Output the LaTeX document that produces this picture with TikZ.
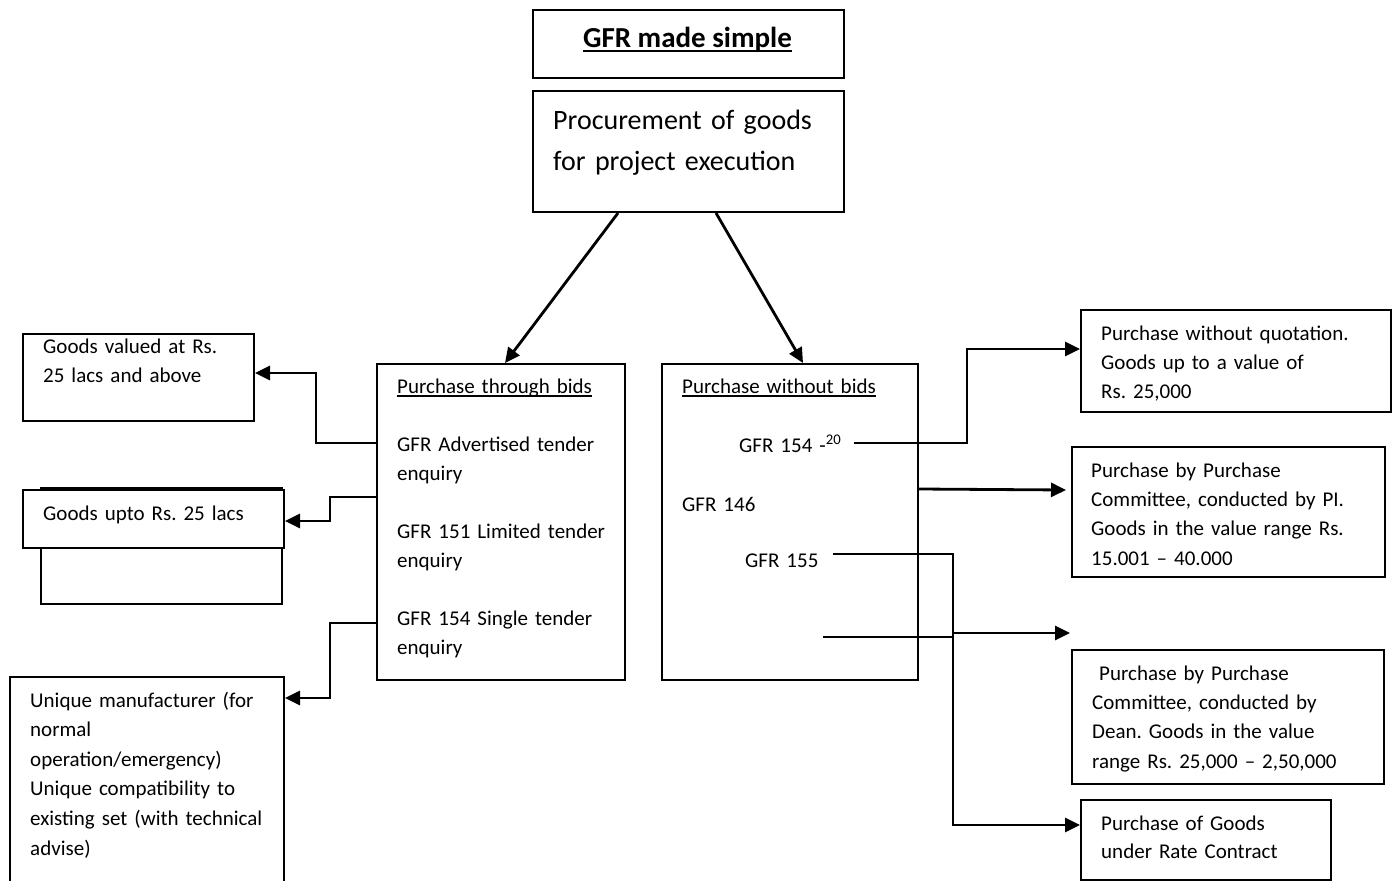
\documentclass[tikz,border=0pt]{standalone}
\usepackage{fontspec}
\setmainfont{Carlito}
\usetikzlibrary{arrows.meta}
\newcommand\myul[3]{\leavevmode\setbox0\hbox{#3}\rlap{\rule[-#1]{\wd0}{#2}}\box0}
\frenchspacing
\begin{document}
\begin{tikzpicture}[x=1pt,y=-1pt,
  box/.style={draw, line width=2pt, inner sep=0pt, anchor=north west, fill=white},
  txt/.style={inner sep=0pt, anchor=base west, align=left, text width=#1,
    font=\fontsize{21}{29.3}\selectfont},
  txt/.default=330pt,
  conn/.style={line width=2.8pt},
  arr/.style={conn, -{Triangle[length=15pt,width=14pt]}},
]
\useasboundingbox[fill=white] (0,0) rectangle (1396,880);

% ---- top boxes
\node[box, minimum width=311pt, minimum height=68pt] (title) at (532,9) {};
\node[inner sep=0pt, anchor=base, font=\fontsize{29}{35}\selectfont\bfseries] (titletxt) at (687.5,48)
  {\myul{4pt}{2pt}{GFR made simple}};
\node[box, minimum width=311pt, minimum height=121pt] (proc) at (532,90) {};
\node[inner sep=0pt, anchor=base west, align=left, text width=300pt,
  font=\fontsize{28}{41}\selectfont] (proctxt) at (553,129)
  {Procurement of goods\\for project execution};

% ---- middle boxes
\node[box, minimum width=248pt, minimum height=316pt] (bids) at (376,363) {};
\node[txt] (hdr1) at (397,393) {\myul{3.5pt}{1.5pt}{Purchase through bids}};
\node[txt] (adv) at (397,451) {GFR Advertised tender\\enquiry};
\node[txt] (lim) at (397,538) {GFR 151 Limited tender\\enquiry};
\node[txt] (sgl) at (397,625) {GFR 154 Single tender\\enquiry};

\node[box, minimum width=256pt, minimum height=316pt] (nobids) at (661,363) {};
\node[txt] (hdr2) at (682,393) {\myul{3.5pt}{1.5pt}{Purchase without bids}};
\node[txt] (g154) at (739,452) {GFR 154 -\textsuperscript{20}};
\node[txt] (g146) at (682,511) {GFR 146};
\node[txt] (g155) at (745,567) {GFR 155};

% ---- left boxes
\node[box, minimum width=231pt, minimum height=87pt] (gA) at (22,333) {};
\node[txt] (tA) at (43,353) {Goods valued at Rs.\\25 lacs and above};
\node[box, minimum width=241pt, minimum height=116pt] (gBb) at (40,487) {};
\node[box, minimum width=261pt, minimum height=58pt] (gB) at (22,489) {};
\node[txt] (tB) at (43,520) {Goods upto Rs. 25 lacs};
\node[box, minimum width=274pt, minimum height=220pt] (gC) at (9,676) {};
\node[txt, font=\fontsize{21}{29.6}\selectfont] (tC) at (30,707)
  {Unique manufacturer (for\\normal\\operation/emergency)\\Unique compatibility to\\existing set (with technical\\advise)};

% ---- right boxes
\node[box, minimum width=310pt, minimum height=102pt] (q1) at (1080,309) {};
\node[txt] (tq1) at (1101,340) {Purchase without quotation.\\Goods up to a value of\\Rs. 25,000};
\node[box, minimum width=313pt, minimum height=130pt] (q2) at (1071,446) {};
\node[txt, font=\fontsize{21}{29.4}\selectfont] (tq2) at (1091,477)
  {Purchase by Purchase\\Committee, conducted by PI.\\Goods in the value range Rs.\\15.001 -- 40.000};
\node[box, minimum width=312pt, minimum height=134pt] (dean) at (1071,649) {};
\node[txt, font=\fontsize{21}{29.4}\selectfont] (tdean) at (1092,680)
  {\ Purchase by Purchase\\Committee, conducted by\\Dean. Goods in the value\\range Rs. 25,000 -- 2,50,000};
\node[box, minimum width=250pt, minimum height=80pt] (rc) at (1080,799) {};
\node[txt, font=\fontsize{21}{28.5}\selectfont] (trc) at (1101,830) {Purchase of Goods\\under Rate Contract};

\coordinate (free) at (1070,633);

% ---- connectors
\draw[arr] ([xshift=86pt]proc.south west) -- ([xshift=129pt]bids.north west);
\draw[arr] ([xshift=184pt]proc.south west) -- ([xshift=142pt]nobids.north west);

\draw[arr] ([yshift=-80pt]bids.north west) -- ++(-60,0) |- ([yshift=4.5pt]gA.east);
\draw[arr] ([yshift=-134pt]bids.north west) -- ++(-46,0) |- ([yshift=-2pt]gB.east);
\draw[arr] ([yshift=-260pt]bids.north west) -- ++(-46,0) |- ([yshift=-22pt]gC.north east);

\draw[arr] ([xshift=193pt,yshift=-80pt]nobids.north west) -- ++(113,0) |- ([yshift=12pt]q1.west);
\draw[arr] ([yshift=-126pt]nobids.north east) -- ([xshift=-5pt,yshift=22pt]q2.west);
\draw[arr] ([xshift=172pt,yshift=-191pt]nobids.north west) -- ++(120,0) |- ([yshift=15pt]rc.west);
\draw[conn] ([xshift=162pt,yshift=-274pt]nobids.north west) -- ++(130,0);
\draw[arr] (953,633) -- (free);
\end{tikzpicture}
\end{document}
